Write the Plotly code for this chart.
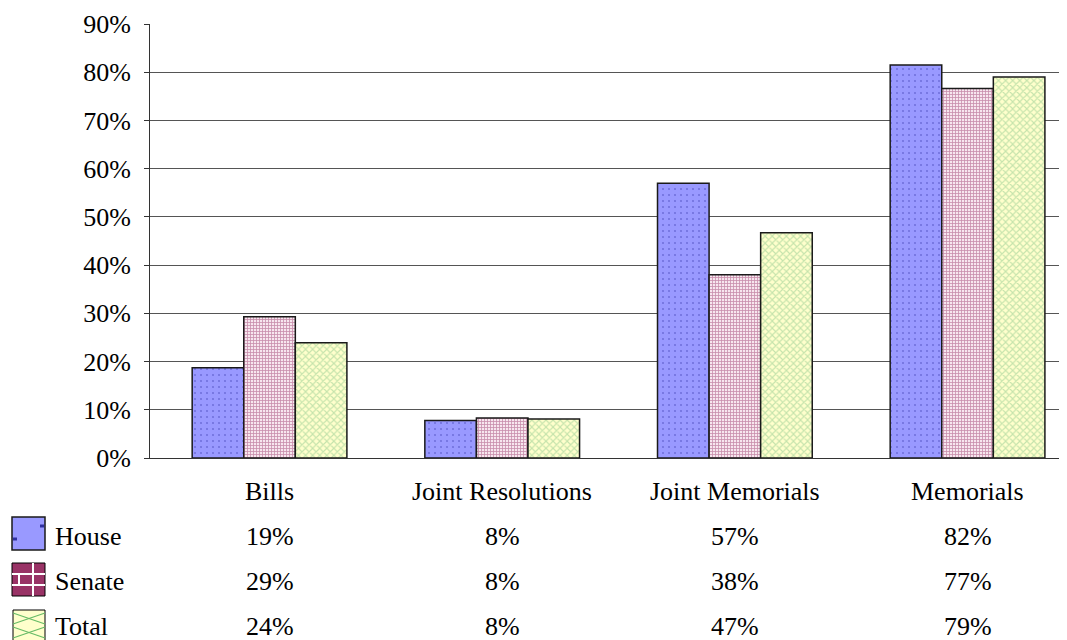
import plotly.graph_objects as go

categories = ["Bills", "Joint Resolutions", "Joint Memorials", "Memorials"]
house = [0.187, 0.078, 0.570, 0.815]
senate = [0.293, 0.083, 0.380, 0.766]
total = [0.239, 0.081, 0.467, 0.790]
house_lbl = ["19%", "8%", "57%", "82%"]
senate_lbl = ["29%", "8%", "38%", "77%"]
total_lbl = ["24%", "8%", "47%", "79%"]
yticks = [0, 0.1, 0.2, 0.3, 0.4, 0.5, 0.6, 0.7, 0.8, 0.9]

FONT = "Liberation Serif, Times New Roman, serif"
FS = 26
OFF = 8  # page body margin
W, H = 1067, 640
L, T, B = 150, 24, 458
UNIT = 232.67
X0 = -0.5 - (153.2 - L) / UNIT

def px(x):
    return (x - L) / (W - L)

def py(y):
    return (B - y) / (B - T)

fig = go.Figure()
fig.add_trace(go.Bar(name="House", x=categories, y=house,
                     marker=dict(color="#9999FF", line=dict(color="#1a1a1a", width=1.5),
                                 pattern=dict(shape=".", fgcolor="#4848b8", bgcolor="#9999FF",
                                              size=6, solidity=0.1))))
fig.add_trace(go.Bar(name="Senate", x=categories, y=senate,
                     marker=dict(color="#ffffff", line=dict(color="#1a1a1a", width=1.5),
                                 pattern=dict(shape="+", fgcolor="#993366", bgcolor="#f7e6ee",
                                              size=3, solidity=0.45))))
fig.add_trace(go.Bar(name="Total", x=categories, y=total,
                     marker=dict(color="#FFFFCC", line=dict(color="#1a1a1a", width=1.5),
                                 pattern=dict(shape="x", fgcolor="#8cc88c", bgcolor="#FFFFCC",
                                              size=5, solidity=0.4))))

ann = []
rows = [("House", house_lbl, 536), ("Senate", senate_lbl, 581), ("Total", total_lbl, 626)]
for i, c in enumerate(categories):
    ann.append(dict(x=c, xref="x", y=py(491), yref="paper", text=c, showarrow=False,
                    font=dict(family=FONT, size=FS, color="#000"), xanchor="center", yanchor="middle"))
    for name, lbls, yy in rows:
        ann.append(dict(x=c, xref="x", y=py(yy), yref="paper", text=lbls[i], showarrow=False,
                        font=dict(family=FONT, size=FS, color="#000"), xanchor="center", yanchor="middle"))
for name, lbls, yy in rows:
    ann.append(dict(x=px(53), xref="paper", y=py(yy), yref="paper", text=name, showarrow=False,
                    font=dict(family=FONT, size=FS, color="#000"), xanchor="left", yanchor="middle"))

shapes = []
def rect(x0, y0, x1, y1, fill, lc="#000", lw=1):
    shapes.append(dict(type="rect", xref="paper", yref="paper", x0=px(x0), x1=px(x1),
                       y0=py(y1), y1=py(y0), fillcolor=fill, line=dict(color=lc, width=lw)))
def line(x0, y0, x1, y1, color, w):
    shapes.append(dict(type="line", xref="paper", yref="paper", x0=px(x0), x1=px(x1),
                       y0=py(y0), y1=py(y1), line=dict(color=color, width=w)))

# House swatch
rect(12, 517, 45, 550, "#9999FF", "#1a1a1a", 1.5)
line(13, 539, 17, 539, "#3030a0", 3)
line(40, 526, 44, 526, "#3030a0", 3)
# Senate swatch
rect(12, 563, 45, 596, "#993366", "#000", 1)
line(12, 574, 45, 574, "#ffffff", 2)
line(12, 585, 45, 585, "#ffffff", 2)
line(33, 563, 33, 596, "#ffffff", 2)
line(19, 574, 19, 585, "#ffffff", 2)
# Total swatch
rect(13, 610, 45, 642, "#FFFFCC", "#000", 1)
line(13, 613, 45, 624, "#66bb66", 1.2)
line(13, 624, 45, 613, "#66bb66", 1.2)
line(13, 627, 45, 638, "#66bb66", 1.2)
line(13, 638, 45, 627, "#66bb66", 1.2)

fig.update_layout(
    width=W - OFF, height=H - OFF,
    margin=dict(l=L - OFF, r=0, t=T - OFF, b=H - B, pad=0),
    paper_bgcolor="#ffffff", plot_bgcolor="#ffffff",
    barmode="group", bargap=0.335, bargroupgap=0,
    showlegend=False,
    annotations=ann, shapes=shapes,
    font=dict(family=FONT, size=FS, color="#000"),
)
fig.update_xaxes(range=[X0, X0 + (W - L) / UNIT], showticklabels=False, showgrid=False,
                 showline=True, linecolor="#333", linewidth=1.2, ticks="", zeroline=False)
fig.update_yaxes(range=[0, 0.9], tickvals=yticks, tickformat=".0%", showgrid=True,
                 gridcolor="#555", gridwidth=1, showline=True, linecolor="#333", linewidth=1,
                 ticks="outside", ticklen=5, tickcolor="#333", zeroline=False,
                 ticklabelstandoff=8,
                 tickfont=dict(family=FONT, size=FS, color="#000"))

fig.write_html("out.html")
